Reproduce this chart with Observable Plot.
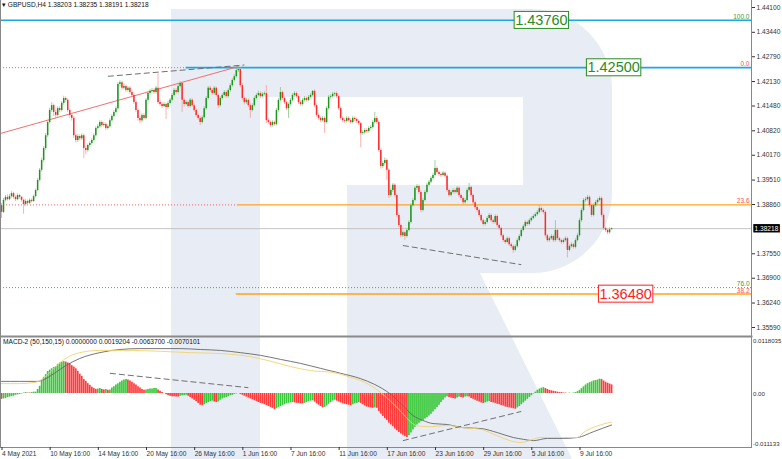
<!DOCTYPE html>
<html><head><meta charset="utf-8">
<script src="https://cdn.jsdelivr.net/npm/d3@7"></script>
<script src="https://cdn.jsdelivr.net/npm/@observablehq/plot@0.6"></script>
<style>
body{margin:0;background:#fff;}
#wrap{position:relative;width:782px;height:459px;overflow:hidden;font-family:"Liberation Sans",Arial,sans-serif;background:#fff;}
#wrap > svg{position:absolute;left:0;overflow:visible;}
.hdr{position:absolute;font-size:6.6px;color:#111;white-space:nowrap;line-height:1;}
</style></head><body><div id="wrap"></div>
<script>
// ---------- DATA ----------
const symbolHeader = "GBPUSD,H4  1.38203 1.38235 1.38191 1.38218";
const macdHeader = "MACD-2 (50,150,15) 0.0000000 0.0019204 -0.0063700 -0.0070101";
const firstOpen = 1.3883;
const closes = [1.3865,1.3897,1.3905,1.3899,1.3907,1.3915,1.3905,1.3899,1.3910,1.3905,
1.3897,1.3886,1.3894,1.3889,1.3897,1.3894,1.3907,1.3923,1.3950,1.3977,
1.4003,1.4035,1.4069,1.4104,1.4136,1.4149,1.4131,1.4123,1.4141,1.4136,
1.4155,1.4168,1.4163,1.4136,1.4123,1.4115,1.4069,1.4056,1.4067,1.4061,
1.4069,1.4035,1.4030,1.4043,1.4048,1.4056,1.4069,1.4088,1.4093,1.4104,
1.4096,1.4099,1.4088,1.4093,1.4109,1.4120,1.4131,1.4141,1.4205,1.4210,
1.4195,1.4200,1.4189,1.4195,1.4184,1.4176,1.4157,1.4136,1.4115,1.4109,
1.4123,1.4115,1.4163,1.4181,1.4187,1.4189,1.4184,1.4195,1.4157,1.4152,
1.4147,1.4152,1.4144,1.4155,1.4163,1.4176,1.4189,1.4184,1.4200,1.4208,
1.4163,1.4152,1.4157,1.4147,1.4163,1.4149,1.4136,1.4123,1.4115,1.4104,
1.4117,1.4141,1.4168,1.4195,1.4189,1.4181,1.4195,1.4176,1.4149,1.4168,
1.4176,1.4184,1.4173,1.4189,1.4202,1.4216,1.4226,1.4242,1.4245,1.4202,
1.4168,1.4157,1.4163,1.4149,1.4136,1.4149,1.4168,1.4176,1.4181,1.4173,
1.4179,1.4181,1.4109,1.4104,1.4096,1.4104,1.4099,1.4136,1.4163,1.4184,
1.4168,1.4157,1.4141,1.4152,1.4163,1.4176,1.4181,1.4173,1.4157,1.4152,
1.4163,1.4168,1.4163,1.4171,1.4176,1.4187,1.4149,1.4123,1.4115,1.4109,
1.4115,1.4104,1.4141,1.4171,1.4173,1.4179,1.4181,1.4173,1.4141,1.4115,
1.4109,1.4107,1.4115,1.4109,1.4104,1.4115,1.4112,1.4107,1.4101,1.4075,
1.4077,1.4083,1.4080,1.4088,1.4091,1.4104,1.4115,1.4104,1.4030,1.3987,
1.3995,1.4003,1.3977,1.3910,1.3923,1.3937,1.3910,1.3857,1.3830,1.3803,
1.3811,1.3801,1.3817,1.3838,1.3883,1.3897,1.3929,1.3934,1.3918,1.3870,
1.3897,1.3918,1.3937,1.3945,1.3955,1.3963,1.3982,1.3971,1.3966,1.3963,
1.3969,1.3961,1.3923,1.3910,1.3918,1.3923,1.3918,1.3929,1.3910,1.3902,
1.3891,1.3897,1.3923,1.3931,1.3910,1.3891,1.3878,1.3870,1.3857,1.3843,
1.3833,1.3838,1.3849,1.3857,1.3843,1.3838,1.3854,1.3830,1.3822,1.3803,
1.3790,1.3785,1.3795,1.3779,1.3774,1.3764,1.3774,1.3790,1.3801,1.3817,
1.3827,1.3838,1.3833,1.3843,1.3849,1.3854,1.3859,1.3865,1.3875,1.3870,
1.3865,1.3803,1.3790,1.3795,1.3801,1.3790,1.3817,1.3795,1.3790,1.3785,
1.3790,1.3795,1.3764,1.3774,1.3779,1.3772,1.3790,1.3803,1.3843,1.3870,
1.3897,1.3899,1.3905,1.3883,1.3857,1.3883,1.3891,1.3897,1.3902,1.3857,
1.3822,1.3817,1.3811,1.3819,1.38218];
const highs = [1.3889,1.3902,1.3910,1.3912,1.3913,1.3920,1.3918,1.3909,1.3914,1.3913,
1.3908,1.3900,1.3899,1.3898,1.3901,1.3901,1.3911,1.3927,1.3955,1.3982,
1.4009,1.4040,1.4075,1.4110,1.4142,1.4157,1.4153,1.4136,1.4146,1.4147,
1.4160,1.4174,1.4172,1.4167,1.4140,1.4128,1.4120,1.4074,1.4072,1.4071,
1.4074,1.4073,1.4040,1.4047,1.4053,1.4061,1.4074,1.4093,1.4099,1.4109,
1.4108,1.4104,1.4103,1.4098,1.4114,1.4125,1.4136,1.4146,1.4210,1.4215,
1.4214,1.4205,1.4204,1.4200,1.4199,1.4188,1.4180,1.4161,1.4140,1.4120,
1.4128,1.4127,1.4168,1.4186,1.4192,1.4195,1.4194,1.4200,1.4234,1.4162,
1.4157,1.4157,1.4156,1.4160,1.4168,1.4181,1.4194,1.4194,1.4205,1.4213,
1.4212,1.4167,1.4162,1.4161,1.4168,1.4167,1.4153,1.4140,1.4127,1.4119,
1.4122,1.4146,1.4173,1.4200,1.4200,1.4194,1.4200,1.4199,1.4180,1.4173,
1.4181,1.4189,1.4188,1.4194,1.4207,1.4221,1.4231,1.4247,1.4253,1.4249,
1.4206,1.4172,1.4168,1.4167,1.4153,1.4154,1.4173,1.4181,1.4187,1.4186,
1.4184,1.4186,1.4202,1.4114,1.4108,1.4109,1.4108,1.4141,1.4168,1.4197,
1.4188,1.4172,1.4161,1.4156,1.4168,1.4181,1.4186,1.4185,1.4177,1.4162,
1.4168,1.4173,1.4172,1.4176,1.4181,1.4189,1.4191,1.4153,1.4127,1.4119,
1.4120,1.4119,1.4146,1.4176,1.4178,1.4184,1.4184,1.4186,1.4177,1.4145,
1.4119,1.4114,1.4120,1.4119,1.4113,1.4120,1.4119,1.4116,1.4111,1.4105,
1.4082,1.4088,1.4088,1.4093,1.4096,1.4109,1.4131,1.4120,1.4108,1.4034,
1.4000,1.4010,1.4007,1.3981,1.3928,1.3942,1.3941,1.3914,1.3861,1.3834,
1.3816,1.3815,1.3822,1.3843,1.3888,1.3902,1.3934,1.3939,1.3938,1.3922,
1.3902,1.3923,1.3942,1.3950,1.3960,1.3968,1.4003,1.3986,1.3975,1.3970,
1.3974,1.3973,1.3965,1.3927,1.3923,1.3928,1.3927,1.3934,1.3933,1.3914,
1.3906,1.3902,1.3928,1.3942,1.3935,1.3914,1.3895,1.3882,1.3874,1.3861,
1.3847,1.3843,1.3854,1.3862,1.3861,1.3847,1.3859,1.3858,1.3834,1.3826,
1.3807,1.3794,1.3800,1.3799,1.3783,1.3778,1.3779,1.3795,1.3806,1.3822,
1.3832,1.3843,1.3842,1.3848,1.3854,1.3859,1.3864,1.3870,1.3883,1.3879,
1.3874,1.3869,1.3807,1.3800,1.3806,1.3805,1.3843,1.3821,1.3799,1.3794,
1.3795,1.3800,1.3799,1.3779,1.3784,1.3783,1.3795,1.3808,1.3848,1.3875,
1.3902,1.3905,1.3910,1.3909,1.3887,1.3888,1.3896,1.3902,1.3907,1.3906,
1.3861,1.3826,1.3821,1.3824,1.38235];
const lows = [1.3849,1.3862,1.3893,1.3895,1.3896,1.3903,1.3900,1.3894,1.3896,1.3900,
1.3892,1.3860,1.3882,1.3885,1.3886,1.3890,1.3891,1.3904,1.3920,1.3946,
1.3972,1.3998,1.4030,1.4064,1.4100,1.4131,1.4120,1.4112,1.4119,1.4130,
1.4132,1.4150,1.4157,1.4130,1.4115,1.4108,1.4062,1.4050,1.4051,1.4055,
1.4057,1.4008,1.4018,1.4025,1.4038,1.4044,1.4052,1.4065,1.4084,1.4089,
1.4091,1.4092,1.4083,1.4084,1.4089,1.4105,1.4116,1.4127,1.4137,1.4200,
1.4190,1.4191,1.4184,1.4185,1.4179,1.4171,1.4152,1.4130,1.4108,1.4101,
1.4104,1.4110,1.4111,1.4159,1.4177,1.4182,1.4179,1.4180,1.4152,1.4147,
1.4142,1.4143,1.4112,1.4140,1.4151,1.4159,1.4172,1.4179,1.4180,1.4196,
1.4131,1.4145,1.4148,1.4142,1.4143,1.4144,1.4131,1.4118,1.4110,1.4096,
1.4100,1.4113,1.4137,1.4164,1.4184,1.4176,1.4177,1.4171,1.4141,1.4145,
1.4164,1.4172,1.4168,1.4169,1.4185,1.4198,1.4212,1.4222,1.4237,1.4196,
1.4162,1.4151,1.4152,1.4144,1.4115,1.4132,1.4145,1.4164,1.4172,1.4168,
1.4169,1.4175,1.4101,1.4099,1.4091,1.4092,1.4094,1.4095,1.4132,1.4159,
1.4163,1.4152,1.4136,1.4115,1.4148,1.4159,1.4172,1.4168,1.4152,1.4147,
1.4148,1.4159,1.4158,1.4159,1.4167,1.4172,1.4144,1.4118,1.4110,1.4104,
1.4105,1.4075,1.4100,1.4137,1.4166,1.4169,1.4174,1.4168,1.4136,1.4110,
1.4104,1.4102,1.4103,1.4104,1.4099,1.4100,1.4107,1.4102,1.4096,1.4037,
1.4070,1.4073,1.4075,1.4076,1.4084,1.4087,1.4100,1.4099,1.4024,1.3980,
1.3982,1.3990,1.3950,1.3902,1.3905,1.3918,1.3905,1.3851,1.3824,1.3797,
1.3798,1.3790,1.3797,1.3813,1.3834,1.3879,1.3893,1.3924,1.3913,1.3864,
1.3866,1.3893,1.3914,1.3933,1.3941,1.3951,1.3959,1.3966,1.3961,1.3958,
1.3959,1.3956,1.3918,1.3905,1.3906,1.3914,1.3913,1.3914,1.3905,1.3897,
1.3886,1.3887,1.3893,1.3919,1.3905,1.3886,1.3873,1.3865,1.3852,1.3838,
1.3828,1.3829,1.3834,1.3845,1.3838,1.3833,1.3834,1.3825,1.3817,1.3798,
1.3785,1.3780,1.3781,1.3774,1.3769,1.3756,1.3760,1.3770,1.3786,1.3797,
1.3813,1.3823,1.3828,1.3829,1.3839,1.3845,1.3850,1.3855,1.3861,1.3865,
1.3860,1.3797,1.3785,1.3786,1.3791,1.3785,1.3786,1.3790,1.3785,1.3780,
1.3781,1.3786,1.3744,1.3760,1.3770,1.3767,1.3768,1.3786,1.3799,1.3839,
1.3866,1.3892,1.3895,1.3878,1.3852,1.3853,1.3879,1.3887,1.3893,1.3852,
1.3817,1.3812,1.3806,1.3807,1.38191];
const histogram = [-0.0013,-0.0012,-0.0011,-0.0009,-0.0008,-0.0007,-0.0006,-0.0004,-0.0003,-0.0002,
-0.0001,0.0001,0.0002,0.0001,0.0001,0.0002,0.0003,0.0003,0.0009,0.0016,
0.0027,0.0036,0.0042,0.0049,0.0052,0.0055,0.0058,0.0060,0.0065,0.0068,
0.0070,0.0071,0.0070,0.0068,0.0066,0.0062,0.0059,0.0055,0.0049,0.0043,
0.0038,0.0031,0.0027,0.0022,0.0018,0.0014,0.0011,0.0009,0.0010,0.0011,
0.0009,0.0008,0.0009,0.0007,0.0008,0.0012,0.0015,0.0019,0.0022,0.0025,
0.0028,0.0030,0.0031,0.0030,0.0028,0.0025,0.0022,0.0019,0.0015,0.0012,
0.0009,0.0007,0.0008,0.0009,0.0010,0.0010,0.0011,0.0011,0.0008,0.0005,
0.0002,0.0000,-0.0003,-0.0005,-0.0006,-0.0007,-0.0007,-0.0008,-0.0008,-0.0006,
-0.0005,-0.0005,-0.0004,-0.0006,-0.0009,-0.0012,-0.0015,-0.0018,-0.0022,-0.0026,
-0.0027,-0.0025,-0.0022,-0.0020,-0.0018,-0.0017,-0.0019,-0.0020,-0.0019,-0.0015,
-0.0012,-0.0010,-0.0009,-0.0007,-0.0005,-0.0004,-0.0002,-0.0001,0.0000,-0.0002,
-0.0004,-0.0006,-0.0008,-0.0010,-0.0012,-0.0014,-0.0016,-0.0018,-0.0020,-0.0022,
-0.0023,-0.0025,-0.0027,-0.0029,-0.0031,-0.0033,-0.0036,-0.0034,-0.0031,-0.0029,
-0.0027,-0.0025,-0.0023,-0.0022,-0.0021,-0.0020,-0.0021,-0.0022,-0.0022,-0.0023,
-0.0023,-0.0022,-0.0020,-0.0018,-0.0017,-0.0016,-0.0019,-0.0023,-0.0026,-0.0029,
-0.0032,-0.0031,-0.0028,-0.0024,-0.0020,-0.0017,-0.0015,-0.0017,-0.0019,-0.0021,
-0.0023,-0.0024,-0.0025,-0.0026,-0.0027,-0.0025,-0.0023,-0.0022,-0.0020,-0.0022,
-0.0025,-0.0028,-0.0030,-0.0031,-0.0032,-0.0033,-0.0032,-0.0033,-0.0040,-0.0046,
-0.0051,-0.0056,-0.0060,-0.0066,-0.0070,-0.0074,-0.0079,-0.0083,-0.0087,-0.0090,
-0.0093,-0.0096,-0.0098,-0.0094,-0.0088,-0.0081,-0.0075,-0.0070,-0.0066,-0.0063,
-0.0060,-0.0057,-0.0054,-0.0050,-0.0046,-0.0041,-0.0036,-0.0031,-0.0026,-0.0020,
-0.0015,-0.0010,-0.0007,-0.0009,-0.0010,-0.0011,-0.0012,-0.0010,-0.0008,-0.0009,
-0.0010,-0.0008,-0.0007,-0.0008,-0.0011,-0.0013,-0.0015,-0.0017,-0.0019,-0.0021,
-0.0022,-0.0021,-0.0019,-0.0018,-0.0020,-0.0021,-0.0022,-0.0024,-0.0025,-0.0027,
-0.0028,-0.0030,-0.0031,-0.0032,-0.0033,-0.0034,-0.0035,-0.0032,-0.0029,-0.0025,
-0.0021,-0.0017,-0.0013,-0.0009,-0.0005,-0.0001,0.0003,0.0007,0.0010,0.0012,
0.0013,0.0011,0.0009,0.0007,0.0006,0.0005,0.0004,0.0003,0.0002,0.0002,
0.0001,0.0001,0.0000,0.0001,0.0000,0.0001,0.0002,0.0004,0.0007,0.0011,
0.0015,0.0019,0.0022,0.0024,0.0026,0.0028,0.0029,0.0030,0.0032,0.0031,
0.0028,0.0025,0.0023,0.0021,0.0019204];
// MACD main line (yellow) and signal line (grey), read at these bar indexes
const macdIdx = [0,9,17,22,27,32,39,49,64,79,94,109,124,134,144,154,165,174,181,189,195,200,204,207,214,222,230,239,247,255,259,263,268,278,287,290,297,304];
const macdMain = [0.0022,0.0022,0.0025,0.0038,0.0060,0.0078,0.0091,0.0096,0.0096,0.0094,0.0091,0.0089,0.0082,0.0072,0.0060,0.0051,0.0047,0.0036,0.0025,0.0002,-0.0022,-0.0045,-0.0064,-0.0072,-0.0074,-0.0071,-0.0076,-0.0080,-0.0094,-0.0107,-0.0109,-0.0105,-0.0098,-0.0098,-0.0098,-0.0087,-0.0072,-0.00637];
const signalIdx = [0,9,18,22,27,32,39,49,59,69,79,89,99,109,119,129,139,149,159,169,179,186,194,199,205,210,215,222,230,239,247,255,260,265,272,280,287,295,304];
const signalVals = [0.0027,0.0027,0.0027,0.0033,0.0047,0.0062,0.0078,0.0091,0.0098,0.0100,0.0100,0.0100,0.0098,0.0096,0.0091,0.0085,0.0076,0.0067,0.0056,0.0045,0.0033,0.0020,-0.0002,-0.0022,-0.0049,-0.0060,-0.0067,-0.0069,-0.0076,-0.0078,-0.0087,-0.0098,-0.0102,-0.0105,-0.0100,-0.0100,-0.0098,-0.0085,-0.0070101];

const priceTicks = [1.441,1.4344,1.4279,1.4213,1.4148,1.4082,1.4017,1.3951,1.3886,1.3755,1.369,1.3624,1.3559];
const lastPrice = 1.38218;
const macdTicks = [0.0118035, 0, -0.011133];
const macdTickLabels = ["0.0118035","0.00","-0.011133"];
const timeTickIdx = [0,24,48,72,96,120,144,168,192,216,240,264,288];
const timeLabels = ["4 May 2021","10 May 16:00","14 May 16:00","20 May 16:00","26 May 16:00","1 Jun 16:00","7 Jun 16:00","11 Jun 16:00","17 Jun 16:00","23 Jun 16:00","29 Jun 16:00","5 Jul 16:00","9 Jul 16:00"];

const fibLevels = [1.4376, 1.4250, 1.3885, 1.3665, 1.3648];
const fibNames = ["100.0","0.0","23.6","76.0","38.2"];
const fibNameColors = ["#3a9a3a","#ff5050","#ff5050","#3a9a3a","#ff5050"];
const fibStartIdx = [0, 92, 118, 0, 117];
const bigLabels = ["1.43760","1.42500","1.36480"];
const bigLabelPrice = [1.4376, 1.4250, 1.3648];
const bigLabelIdx = [269, 305, 311];
const bigLabelColors = ["#2a8c1e","#2a8c1e","#ff2020"];

// trend lines: [x1, y1, x2, y2]
const redTrend = [[-0.5, 1.4075, 118, 1.4253]];
const priceDashes = [[53, 1.4227, 121, 1.4257],[200, 1.3777, 259, 1.3726]];
const macdDashes = [[54, 0.0045, 123, 0.0013],[200, -0.0105, 259, -0.0040]];

// ---------- BUILD ----------
const W = 782, MR = 31;
const wrap = document.getElementById("wrap");
const NS = "http://www.w3.org/2000/svg";

// watermark logo (decoration)
const bg = document.createElementNS(NS, "svg");
bg.setAttribute("width", W); bg.setAttribute("height", 459);
bg.style.top = "0px";
bg.innerHTML = '<path d="M171,9 H532 A80,80 0 0 1 612,89 V193 A80,80 0 0 1 532,273 H480 L572,459 H347 V185 H523 V97 H260 V459 H171 Z" fill="#e8ecf4"/>';
wrap.appendChild(bg);

const xScale = {domain: [0, 304], range: [1, 611.1], axis: null};
const xs = d3.scaleLinear(xScale.domain, xScale.range);
const xLeft = xs.invert(0), xRight = xs.invert(W - MR);

const bars = closes.map((c, i) => ({i, o: i ? closes[i - 1] : firstOpen, h: highs[i], l: lows[i], c}));
const upBody = "#1e961e", dnBody = "#ff2a2a", upWick = "#86c986", dnWick = "#f5a0a0";
const fib = fibLevels.map((v, k) => ({v, name: fibNames[k], col: fibNameColors[k], start: fibStartIdx[k] || xLeft}));
const big = bigLabels.map((t, k) => ({t, y: bigLabelPrice[k], x: bigLabelIdx[k], col: bigLabelColors[k]}));
const baseStyle = {fontFamily: "Liberation Sans, Arial, sans-serif", fontSize: "6.6px", background: "transparent", overflow: "visible", color: "#222"};

const price = Plot.plot({
  width: W, height: 336, marginLeft: 0, marginRight: MR, marginTop: 0, marginBottom: 0,
  x: xScale,
  y: {domain: [1.3535, 1.44286], range: [336, 0], axis: null, label: null},
  style: baseStyle,
  marks: [
    Plot.ruleY([lastPrice], {stroke: "#c4c4c4", strokeWidth: 1}),
    // dotted parts left of the fibonacci anchor
    Plot.ruleY([fib[1], fib[2]], {y: "v", x1: xLeft, x2: "start", stroke: "#ff6060", strokeWidth: 1, strokeDasharray: "1,2"}),
    Plot.ruleY([fib[3]], {y: "v", x1: xLeft, x2: xRight, stroke: "#4caf50", strokeWidth: 1, strokeDasharray: "1,2"}),
    Plot.ruleY([fib[0], fib[1]], {y: "v", x1: "start", x2: xRight, stroke: "#1da6e6", strokeWidth: 1.6}),
    Plot.ruleY([fib[2], fib[4]], {y: "v", x1: "start", x2: xRight, stroke: "#ffa31a", strokeWidth: 1.4}),
    Plot.link(redTrend, {x1: d => d[0], y1: d => d[1], x2: d => d[2], y2: d => d[3], stroke: "#f07070", strokeWidth: 1}),
    Plot.link(priceDashes, {x1: d => d[0], y1: d => d[1], x2: d => d[2], y2: d => d[3], stroke: "#707070", strokeWidth: 1, strokeDasharray: "6,3"}),
    Plot.ruleX(bars, {x: "i", y1: "l", y2: "h", stroke: d => d.c >= d.o ? upWick : dnWick, strokeWidth: 0.8}),
    Plot.ruleX(bars, {x: "i", y1: "o", y2: "c", stroke: d => d.c >= d.o ? upBody : dnBody, strokeWidth: 1.5}),
    Plot.text(fib, {y: "v", text: "name", fill: "col", frameAnchor: "right", textAnchor: "end", dx: -2, dy: -3.5, fontSize: 6.5}),
    Plot.text(big, {x: "x", y: "y", text: "t", fill: "col", fontSize: 14.5, className: "boxlbl"}),
    Plot.frame({anchor: "left", stroke: "#888"}),
    Plot.frame({anchor: "right", stroke: "#888"}),
    Plot.axisY(priceTicks, {anchor: "right", label: null, tickSize: 3, tickPadding: 2, tickFormat: d => d.toFixed(5), fontSize: 6.6, color: "#333"}),
    Plot.text([lastPrice], {y: d => d, text: d => d.toFixed(5), frameAnchor: "right", textAnchor: "start", dx: 3, fill: "white", fontSize: 6.6, className: "curbox"})
  ]
});
price.style.top = "0px";
wrap.appendChild(price);

const hist = histogram.map((v, i) => ({i, v}));
hist.forEach((d, i) => { d.col = i === 0 ? "#ff3b3b" : (d.v > histogram[i - 1] ? "#3cc83c" : d.v < histogram[i - 1] ? "#ff3b3b" : hist[i - 1].col); });
const mainPts = macdIdx.map((x, k) => ({x, v: macdMain[k]}));
const sigPts = signalIdx.map((x, k) => ({x, v: signalVals[k]}));

const macd = Plot.plot({
  width: W, height: 123, marginLeft: 0, marginRight: MR, marginTop: 0, marginBottom: 12,
  x: {...xScale, label: null},
  y: {domain: [-0.011133, 0.0118035], range: [107, 4], axis: null, label: null},
  style: baseStyle,
  marks: [
    Plot.ruleX(hist, {x: "i", y1: 0, y2: "v", stroke: "col", strokeWidth: 1.7}),
    Plot.line(sigPts, {x: "x", y: "v", stroke: "#666", strokeWidth: 0.9, curve: "monotone-x"}),
    Plot.line(mainPts, {x: "x", y: "v", stroke: "#f2d46a", strokeWidth: 0.9, curve: "monotone-x"}),
    Plot.link(macdDashes, {x1: d => d[0], y1: d => d[1], x2: d => d[2], y2: d => d[3], stroke: "#707070", strokeWidth: 1, strokeDasharray: "6,3"}),
    Plot.frame({anchor: "top", stroke: "#8a8a8a", strokeWidth: 2}),
    Plot.frame({anchor: "bottom", stroke: "#888"}),
    Plot.frame({anchor: "left", stroke: "#888"}),
    Plot.frame({anchor: "right", stroke: "#888"}),
    Plot.axisY(macdTicks, {anchor: "right", label: null, tickSize: 0, tickPadding: 1.5, tickFormat: d => macdTickLabels[macdTicks.indexOf(d)], fontSize: 6.1, dy: 1, color: "#333"}),
    Plot.axisX(timeTickIdx, {anchor: "bottom", label: null, tickSize: 3, tickPadding: 1, textAnchor: "start", dx: 0.5, tickFormat: d => timeLabels[timeTickIdx.indexOf(d)], fontSize: 6.6, color: "#333"})
  ]
});
macd.style.top = "336px";
wrap.appendChild(macd);

// boxes behind labels
function boxes(svg, cls, pad, fillFn, strokeFn) {
  svg.querySelectorAll("g." + cls + " text").forEach(t => {
    const b = t.getBBox();
    const r = document.createElementNS(NS, "rect");
    r.setAttribute("x", b.x - pad); r.setAttribute("y", b.y - pad + 0.5);
    r.setAttribute("width", b.width + 2 * pad); r.setAttribute("height", b.height + 2 * pad - 1);
    if (t.getAttribute("transform")) r.setAttribute("transform", t.getAttribute("transform"));
    r.setAttribute("fill", fillFn(t)); r.setAttribute("stroke", strokeFn(t));
    t.parentNode.insertBefore(r, t);
  });
}
boxes(price, "boxlbl", 1, () => "#ffffff", t => t.getAttribute("fill") || t.parentNode.getAttribute("fill"));
boxes(price, "curbox", 1.2, () => "#000", () => "none");

// header texts
const h1 = document.createElement("div");
h1.className = "hdr"; h1.style.left = "2px"; h1.style.top = "2px";
h1.textContent = "\u25BE " + symbolHeader;
wrap.appendChild(h1);
const h2 = document.createElement("div");
h2.className = "hdr"; h2.style.left = "3px"; h2.style.top = "339px";
h2.textContent = macdHeader;
wrap.appendChild(h2);
</script></body></html>
